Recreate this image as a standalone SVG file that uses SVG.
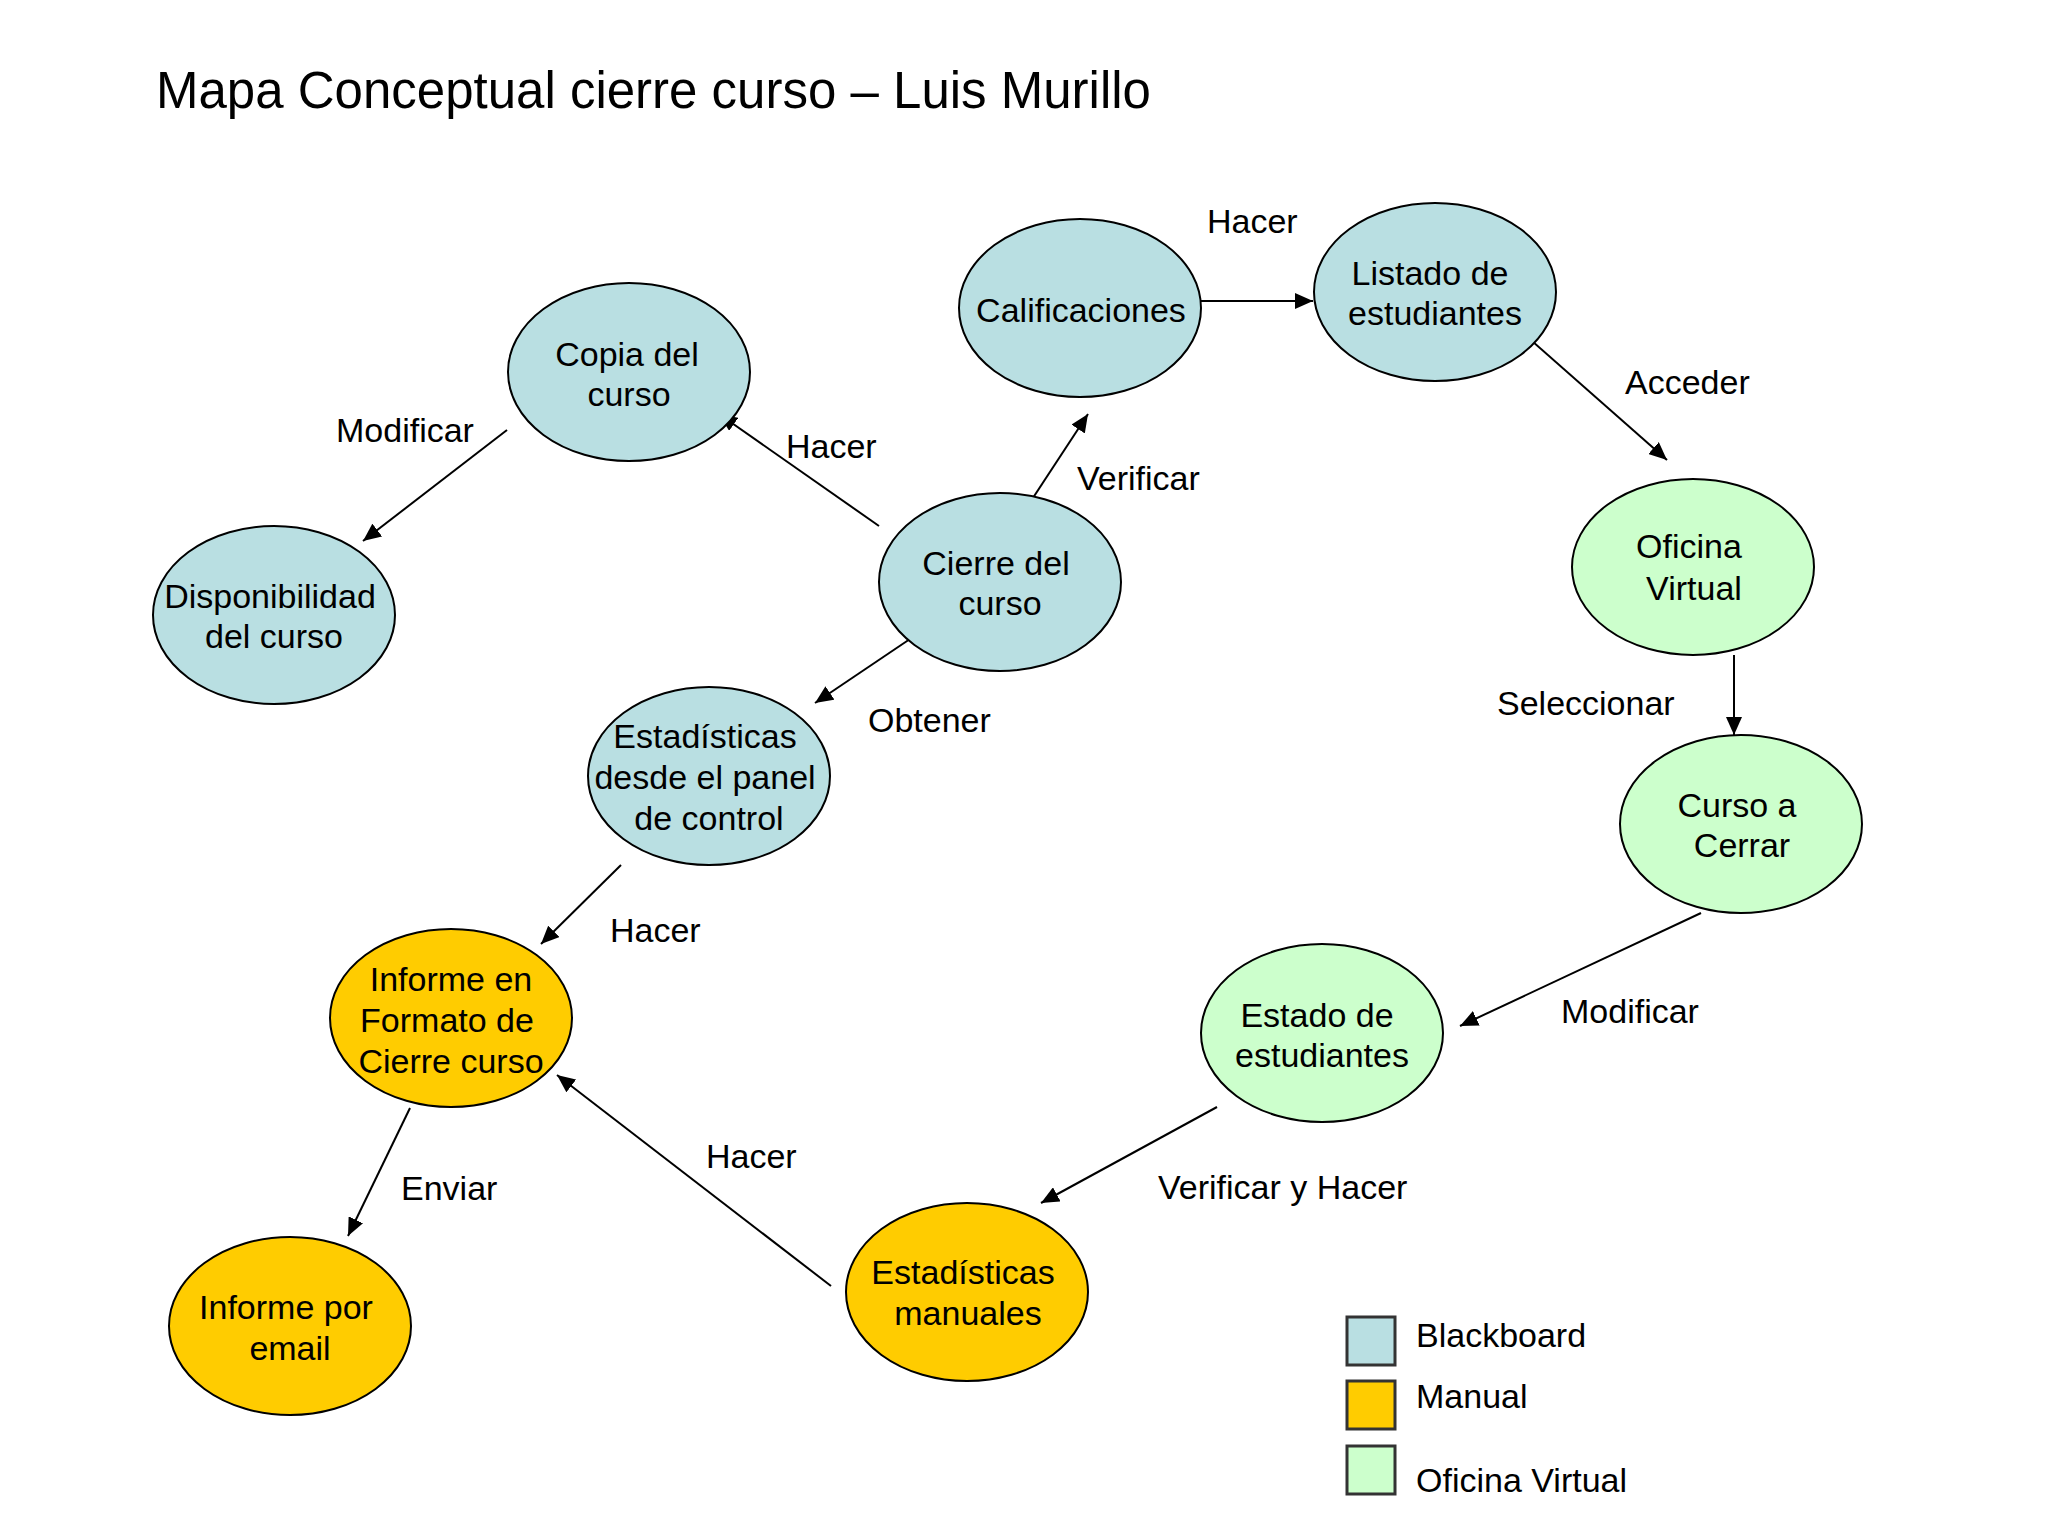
<svg xmlns="http://www.w3.org/2000/svg" width="2048" height="1536" viewBox="0 0 2048 1536">
<style>
text{font-family:"Liberation Sans",Arial,sans-serif;font-size:34px;fill:#000}
.t{font-size:51px}
.n{text-anchor:middle}
.bb{fill:#B9DFE2;stroke:#000;stroke-width:2}
.mn{fill:#FFCC00;stroke:#000;stroke-width:2}
.ov{fill:#CCFFCC;stroke:#000;stroke-width:2}
.lg{stroke:#333;stroke-width:3}
.c line{stroke:#000;stroke-width:2;marker-end:url(#ah)}
</style>
<defs>
<marker id="ah" markerUnits="userSpaceOnUse" markerWidth="18" markerHeight="16" refX="18" refY="8" orient="auto">
<path d="M0,0 L18,8 L0,16 z" fill="#000"/>
</marker>
</defs>
<rect width="2048" height="1536" fill="#fff"/>
<text class="t" x="156" y="108">Mapa Conceptual cierre curso – Luis Murillo</text>

<g class="c" id="connectors">
<line x1="507" y1="430" x2="363" y2="541"/>
<line x1="879" y1="526" x2="719" y2="414"/>
<line x1="1025" y1="510" x2="1088" y2="414"/>
<line x1="1201" y1="301" x2="1313" y2="301"/>
<line x1="1524" y1="334" x2="1667" y2="460"/>
<line x1="1734" y1="655" x2="1734" y2="735"/>
<line x1="1701" y1="913" x2="1460" y2="1026"/>
<line x1="1217" y1="1107" x2="1041" y2="1203"/>
<line x1="621" y1="865" x2="541" y2="944"/>
<line x1="831" y1="1286" x2="557" y2="1075"/>
<line x1="410" y1="1108" x2="348" y2="1236"/>
<line x1="910" y1="639" x2="815" y2="703"/>
<text x="336" y="442">Modificar</text>
<text x="786" y="458">Hacer</text>
<text x="1077" y="490">Verificar</text>
<text x="1207" y="233">Hacer</text>
<text x="1625" y="394">Acceder</text>
<text x="1497" y="715">Seleccionar</text>
<text x="1561" y="1023">Modificar</text>
<text x="1158" y="1199">Verificar y Hacer</text>
<text x="610" y="942">Hacer</text>
<text x="706" y="1168">Hacer</text>
<text x="401" y="1200">Enviar</text>
<text x="868" y="732">Obtener</text>
</g>

<g id="copia"><ellipse class="bb" cx="629" cy="372" rx="121" ry="89"/><text class="n" x="627" y="366">Copia del</text><text class="n" x="629" y="406">curso</text></g>
<g id="disponibilidad"><ellipse class="bb" cx="274" cy="615" rx="121" ry="89"/><text class="n" x="270" y="608">Disponibilidad</text><text class="n" x="274" y="648">del curso</text></g>
<g id="calificaciones"><ellipse class="bb" cx="1080" cy="308" rx="121" ry="89"/><text class="n" x="1081" y="322">Calificaciones</text></g>
<g id="listado"><ellipse class="bb" cx="1435" cy="292" rx="121" ry="89"/><text class="n" x="1430" y="285">Listado de</text><text class="n" x="1435" y="325">estudiantes</text></g>
<g id="cierre"><ellipse class="bb" cx="1000" cy="582" rx="121" ry="89"/><text class="n" x="996" y="575">Cierre del</text><text class="n" x="1000" y="615">curso</text></g>
<g id="estadisticas-panel"><ellipse class="bb" cx="709" cy="776" rx="121" ry="89"/><text class="n" x="705" y="748">Estadísticas</text><text class="n" x="705" y="789">desde el panel</text><text class="n" x="709" y="830">de control</text></g>
<g id="oficina"><ellipse class="ov" cx="1693" cy="567" rx="121" ry="88"/><text class="n" x="1689" y="558">Oficina</text><text class="n" x="1694" y="600">Virtual</text></g>
<g id="curso-cerrar"><ellipse class="ov" cx="1741" cy="824" rx="121" ry="89"/><text class="n" x="1737" y="817">Curso a</text><text class="n" x="1742" y="857">Cerrar</text></g>
<g id="estado"><ellipse class="ov" cx="1322" cy="1033" rx="121" ry="89"/><text class="n" x="1317" y="1027">Estado de</text><text class="n" x="1322" y="1067">estudiantes</text></g>
<g id="estadisticas-manuales"><ellipse class="mn" cx="967" cy="1292" rx="121" ry="89"/><text class="n" x="963" y="1284">Estadísticas</text><text class="n" x="968" y="1325">manuales</text></g>
<g id="informe-formato"><ellipse class="mn" cx="451" cy="1018" rx="121" ry="89"/><text class="n" x="451" y="991">Informe en</text><text class="n" x="447" y="1032">Formato de</text><text class="n" x="451" y="1073">Cierre curso</text></g>
<g id="informe-email"><ellipse class="mn" cx="290" cy="1326" rx="121" ry="89"/><text class="n" x="286" y="1319">Informe por</text><text class="n" x="290" y="1360">email</text></g>

<g id="legend">
<rect class="bb lg" x="1347" y="1317" width="48" height="48"/>
<rect class="mn lg" x="1347" y="1381" width="48" height="48"/>
<rect class="ov lg" x="1347" y="1446" width="48" height="48"/>
<text x="1416" y="1347">Blackboard</text>
<text x="1416" y="1408">Manual</text>
<text x="1416" y="1492">Oficina Virtual</text>
</g>
</svg>
